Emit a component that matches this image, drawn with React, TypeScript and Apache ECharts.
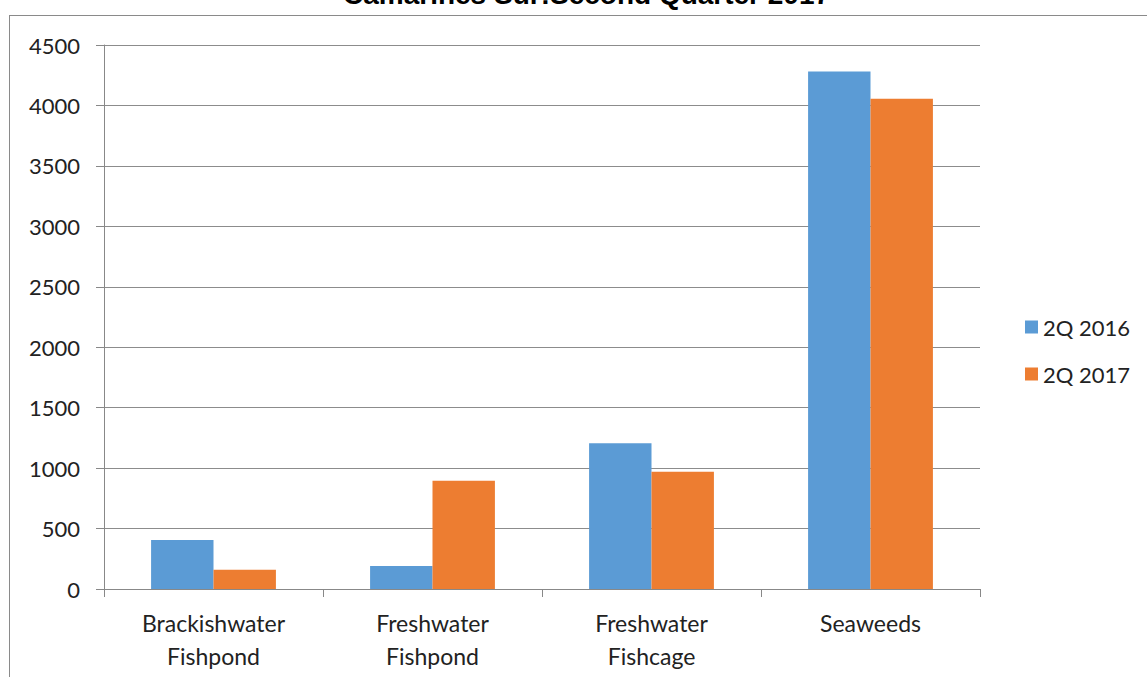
import React, { useEffect, useRef } from "react";
import * as echarts from "echarts";

const categories = ["Brackishwater\nFishpond", "Freshwater\nFishpond", "Freshwater\nFishcage", "Seaweeds"];
const series2016 = [405, 190, 1205, 4280];
const series2017 = [160, 895, 970, 4055];
const seriesNames = ["2Q 2016", "2Q 2017"];
const titleText = "Camarines Sur:Second Quarter 2017";

export default function App() {
  const ref = useRef<HTMLDivElement>(null);
  useEffect(() => {
    document.body.style.margin = "0";
    const chart = echarts.init(ref.current!, undefined, { renderer: "svg" });
    const font = "Lato, 'Open Sans', sans-serif";
    chart.setOption({
      animation: false,
      backgroundColor: "#ffffff",
      title: {
        text: titleText,
        left: 343,
        top: -20,
        padding: 0,
        textStyle: { fontFamily: "'Liberation Sans', Arial, sans-serif", fontWeight: "bold", fontSize: 28, color: "#000" },
      },
      graphic: [
        { type: "line", shape: { x1: 9, y1: 15.5, x2: 1147, y2: 15.5 }, style: { stroke: "#8a8a8a", lineWidth: 1 } },
        { type: "line", shape: { x1: 9.5, y1: 15, x2: 9.5, y2: 677 }, style: { stroke: "#8a8a8a", lineWidth: 1 } },
      ],
      legend: {
        orient: "vertical",
        left: 1020,
        top: 311,
        itemWidth: 13,
        itemHeight: 13,
        itemGap: 25,
        icon: "rect",
        textStyle: { fontFamily: font, fontSize: 22, color: "#222" },
        data: seriesNames,
      },
      grid: { left: 104, right: 167, top: 45, bottom: 88, containLabel: false },
      xAxis: {
        type: "category",
        data: categories,
        axisLine: { lineStyle: { color: "#888", width: 1 } },
        axisTick: { show: true, alignWithLabel: false, length: 8, lineStyle: { color: "#888" } },
        axisLabel: { fontFamily: font, fontSize: 23, color: "#222", lineHeight: 33, margin: 17 },
      },
      yAxis: {
        type: "value",
        min: 0,
        max: 4500,
        interval: 500,
        axisLine: { show: true, lineStyle: { color: "#888", width: 1 } },
        axisTick: { show: true, length: 8, lineStyle: { color: "#888" } },
        splitLine: { lineStyle: { color: "#8c8c8c", width: 1 } },
        axisLabel: { fontFamily: font, fontSize: 22, color: "#222", margin: 24, formatter: (v: number) => String(v) },
      },
      series: [
        {
          name: seriesNames[0],
          type: "bar",
          data: series2016,
          itemStyle: { color: "#5B9BD5" },
          barGap: "0%",
          barCategoryGap: "43%",
        },
        {
          name: seriesNames[1],
          type: "bar",
          data: series2017,
          itemStyle: { color: "#ED7D31" },
          barGap: "0%",
          barCategoryGap: "43%",
        },
      ],
    });
    return () => chart.dispose();
  }, []);
  return <div ref={ref} style={{ position: "fixed", left: 0, top: 0, width: 1147, height: 677 }} />;
}
